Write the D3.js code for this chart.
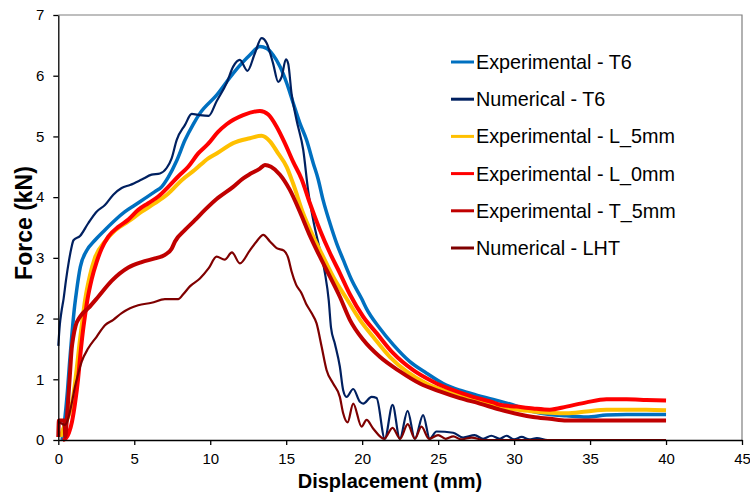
<!DOCTYPE html>
<html><head><meta charset="utf-8">
<script src="https://cdn.jsdelivr.net/npm/d3@7"></script>
<style>
html,body{margin:0;padding:0;background:#fff;}
svg{display:block;font-family:"Liberation Sans",Arial,sans-serif;}
</style></head>
<body>
<svg id="chart" width="750" height="495"></svg>
<script>
// ---- data (x = displacement mm, y = force kN) ----
const expT6 = [[0.25,0.0],[0.35,0.2],[0.45,0.4],[0.6,0.8],[0.75,1.3],[0.9,1.75],[1.05,2.15],[1.2,2.45],[1.45,2.85],[1.87,3.12],[2.41,3.29],[3.07,3.46],[3.73,3.62],[4.39,3.76],[5.05,3.87],[5.7,3.98],[6.36,4.09],[6.8,4.17],[7.24,4.33],[7.79,4.6],[8.34,4.94],[8.88,5.2],[9.32,5.38],[10.42,5.68],[11.51,6.04],[12.61,6.34],[13.27,6.48],[13.71,6.45],[14.14,6.34],[14.59,6.15],[15.03,5.88],[15.46,5.55],[15.9,5.22],[16.34,4.94],[16.78,4.56],[17.1,4.3],[17.43,3.95],[17.88,3.57],[18.32,3.24],[18.75,2.97],[19.3,2.64],[19.96,2.33],[20.29,2.16],[21.16,1.84],[22.04,1.57],[23.14,1.29],[24.24,1.1],[25.33,0.93],[26.43,0.82],[27.53,0.74],[28.62,0.67],[29.9,0.58],[31.25,0.47],[32.35,0.42],[33.45,0.4],[34.76,0.38],[36.08,0.41],[37.4,0.42],[38.7,0.42],[40,0.42]];
const numT6 = [[0,1.55],[0.1,1.9],[0.2,2.1],[0.35,2.33],[0.5,2.62],[0.7,2.95],[0.85,3.15],[1.0,3.29],[1.43,3.36],[1.97,3.57],[2.52,3.76],[3.07,3.87],[3.62,4.04],[4.17,4.15],[4.72,4.2],[5.49,4.29],[6.14,4.37],[6.69,4.39],[7.13,4.48],[7.46,4.64],[7.79,4.94],[8.34,5.19],[8.78,5.37],[9.32,5.35],[9.9,5.34],[10.42,5.58],[11.08,5.88],[11.51,6.15],[11.95,6.26],[12.45,6.08],[12.94,6.37],[13.38,6.62],[13.71,6.54],[14.14,6.2],[14.47,5.9],[14.7,5.98],[14.98,6.27],[15.13,6.2],[15.35,5.71],[15.68,5.27],[16.12,4.78],[16.45,4.1],[16.78,3.62],[17.22,3.13],[17.55,2.75],[17.8,2.3],[17.95,1.85],[18.2,1.59],[18.53,1.21],[18.75,0.82],[18.97,0.71],[19.41,0.84],[19.85,0.63],[20.07,0.6],[20.62,0.71],[20.95,0.69],[21.49,0.02],[22.0,0.58],[22.48,0.02],[22.99,0.48],[23.47,0.02],[24.01,0.41],[24.45,0.02],[24.89,0.14],[25.99,0.12],[26.64,0.04],[27.4,0.08],[27.96,0.02],[28.5,0.07],[29.06,0.02],[29.5,0.07],[30.0,0.01],[30.5,0.05],[31.0,0.01],[31.5,0.03],[32.2,0.0],[40,0.0]];
const expL5 = [[0.15,0.05],[0.35,0.2],[0.6,0.35],[0.8,0.5],[1.0,0.75],[1.2,1.15],[1.4,1.6],[1.6,2.0],[1.76,2.3],[2.09,2.72],[2.41,3.0],[3.07,3.27],[3.73,3.45],[4.61,3.6],[5.49,3.76],[6.36,3.9],[7.24,4.06],[8.12,4.28],[8.99,4.45],[9.87,4.64],[10.42,4.72],[11.51,4.89],[12.61,4.97],[13.38,5.01],[13.93,4.92],[14.47,4.72],[15.03,4.5],[15.46,4.22],[16.12,3.73],[16.78,3.35],[17.43,3.02],[18.09,2.69],[18.97,2.33],[19.85,1.98],[20.72,1.7],[21.82,1.37],[22.92,1.13],[24.24,0.93],[25.55,0.8],[26.87,0.69],[28.18,0.61],[29.06,0.55],[30.16,0.5],[31.25,0.47],[32.35,0.45],[33.45,0.44],[34.76,0.47],[36.08,0.5],[37.4,0.5],[38.7,0.5],[40,0.49]];
const expL0 = [[0.3,0.0],[0.5,0.03],[0.7,0.12],[0.9,0.3],[1.1,0.6],[1.3,1.0],[1.45,1.4],[1.6,1.75],[1.76,2.05],[1.91,2.3],[2.2,2.65],[2.52,2.93],[2.85,3.15],[3.29,3.35],[3.95,3.51],[4.61,3.63],[5.26,3.79],[5.92,3.9],[6.58,4.01],[7.24,4.17],[7.89,4.34],[8.55,4.5],[9.21,4.72],[9.87,4.88],[10.5,5.07],[11.08,5.2],[12.17,5.35],[13.27,5.42],[13.82,5.36],[14.37,5.16],[14.91,4.89],[15.46,4.58],[16.01,4.3],[16.56,3.9],[17.22,3.46],[17.88,3.08],[18.53,2.75],[19.19,2.4],[20.07,2.03],[20.95,1.76],[22.04,1.43],[23.36,1.15],[24.67,0.96],[25.99,0.82],[27.3,0.71],[28.62,0.62],[29.06,0.58],[30.16,0.55],[31.25,0.52],[32.35,0.5],[33.45,0.55],[34.76,0.62],[36.08,0.67],[37.4,0.67],[38.7,0.66],[40,0.65]];
const expT5 = [[0,0.05],[0.04,0.32],[0.4,0.32],[0.46,0.05],[0.55,0.3],[0.66,0.7],[0.77,1.1],[0.88,1.5],[0.99,1.7],[1.14,1.88],[1.43,2.03],[1.97,2.17],[2.63,2.36],[3.51,2.62],[4.61,2.84],[5.49,2.93],[6.36,2.99],[7.02,3.05],[7.46,3.15],[7.68,3.27],[8.34,3.46],[8.99,3.62],[9.65,3.79],[10.42,3.97],[11.51,4.17],[12.17,4.31],[12.61,4.38],[13.27,4.47],[13.6,4.53],[14.0,4.5],[14.59,4.37],[15.24,4.12],[15.9,3.76],[16.5,3.4],[17.22,3.02],[17.88,2.69],[18.53,2.36],[19.19,1.98],[20.07,1.65],[21.16,1.37],[22.48,1.13],[23.8,0.93],[25.11,0.8],[26.43,0.69],[27.74,0.6],[29.06,0.5],[30.37,0.42],[31.25,0.38],[32.35,0.35],[33.45,0.32],[35.4,0.32],[37.4,0.32],[38.7,0.32],[40,0.32]];
const numLHT = [[0,0.3],[0.22,0.27],[0.44,0.25],[0.66,0.36],[0.88,0.6],[1.1,0.88],[1.32,1.1],[1.54,1.29],[1.97,1.51],[2.52,1.7],[3.07,1.89],[3.62,1.98],[4.17,2.09],[4.72,2.17],[5.26,2.22],[6.14,2.26],[7.02,2.32],[7.89,2.32],[8.22,2.4],[8.66,2.53],[9.32,2.66],[9.9,2.83],[10.42,3.02],[10.95,2.97],[11.43,3.09],[11.95,2.91],[12.6,3.12],[13.05,3.27],[13.49,3.38],[13.93,3.27],[14.37,3.16],[14.85,3.12],[15.13,3.0],[15.35,2.78],[15.65,2.56],[16.0,2.42],[16.3,2.25],[16.67,2.09],[17.0,1.92],[17.33,1.54],[17.66,1.15],[18.09,0.93],[18.53,0.71],[18.75,0.44],[19.04,0.29],[19.41,0.6],[19.96,0.22],[20.29,0.33],[20.72,0.19],[21.45,0.02],[22.0,0.2],[22.5,0.02],[23.0,0.26],[23.47,0.02],[23.9,0.22],[24.4,0.02],[25.0,0.08],[25.5,0.02],[26.0,0.06],[26.5,0.01],[27.2,0.04],[28,0.0],[40,0.0]];

const seriesNames = ["Experimental - T6","Numerical - T6","Experimental - L_5mm","Experimental - L_0mm","Experimental - T_5mm","Numerical - LHT"];
const seriesData = [expT6, numT6, expL5, expL0, expT5, numLHT];
const seriesColors = ["#0070C0","#002060","#FFC000","#FF0000","#C00000","#7F0000"];
const seriesWidths = [3.5, 2.2, 4, 4, 4, 2.2];
const xTicks = [0,5,10,15,20,25,30,35,40,45];
const yTicks = [0,1,2,3,4,5,6,7];

// ---- drawing ----
const svg = d3.select("#chart");
const x = d3.scaleLinear().domain([0,45]).range([58.3,742]);
const y = d3.scaleLinear().domain([0,7]).range([440,15]);

// frame (top/right)
svg.append("path").attr("d",`M${x(0)},${y(7)}H${x(45)}V${y(0)}`)
  .attr("fill","none").attr("stroke","#7f7f7f").attr("stroke-width",1.2);

const line = d3.line().x(d=>x(d[0])).y(d=>y(d[1])).curve(d3.curveMonotoneX);
seriesData.forEach((data,i)=>{
  svg.append("path").datum(data).attr("d",line)
    .attr("fill","none").attr("stroke",seriesColors[i])
    .attr("stroke-width",seriesWidths[i]).attr("stroke-linejoin","round");
});

const xAxis = svg.append("g").attr("transform",`translate(0,${y(0)})`)
  .call(d3.axisBottom(x).tickValues(xTicks).tickFormat(d3.format("d")).tickSize(5).tickPadding(8).tickSizeOuter(0));
const yAxis = svg.append("g").attr("transform",`translate(${x(0)},0)`)
  .call(d3.axisLeft(y).tickValues(yTicks).tickFormat(d3.format("d")).tickSize(5).tickPadding(9).tickSizeOuter(0));
[xAxis,yAxis].forEach(g=>{
  g.selectAll("path,line").attr("stroke","#000").attr("stroke-width",1.3);
  g.selectAll("text").attr("font-size",15).attr("fill","#000")
    .attr("font-family","'Liberation Sans',Arial,sans-serif");
});

svg.append("text").attr("x",390).attr("y",488).attr("text-anchor","middle")
  .attr("font-size",20).attr("font-weight","bold").text("Displacement (mm)");
svg.append("text").attr("transform","translate(32,223) rotate(-90)").attr("text-anchor","middle")
  .attr("font-size",23).attr("font-weight","bold").text("Force (kN)");

// legend
const lg = svg.append("g");
seriesNames.forEach((name,i)=>{
  const ly = 62 + i*37.2;
  lg.append("line").attr("x1",451).attr("x2",474).attr("y1",ly).attr("y2",ly)
    .attr("stroke",seriesColors[i]).attr("stroke-width",3);
  lg.append("text").attr("x",476).attr("y",ly).attr("dy","0.35em")
    .attr("font-size",19.8).text(name);
});
</script>
</body></html>
